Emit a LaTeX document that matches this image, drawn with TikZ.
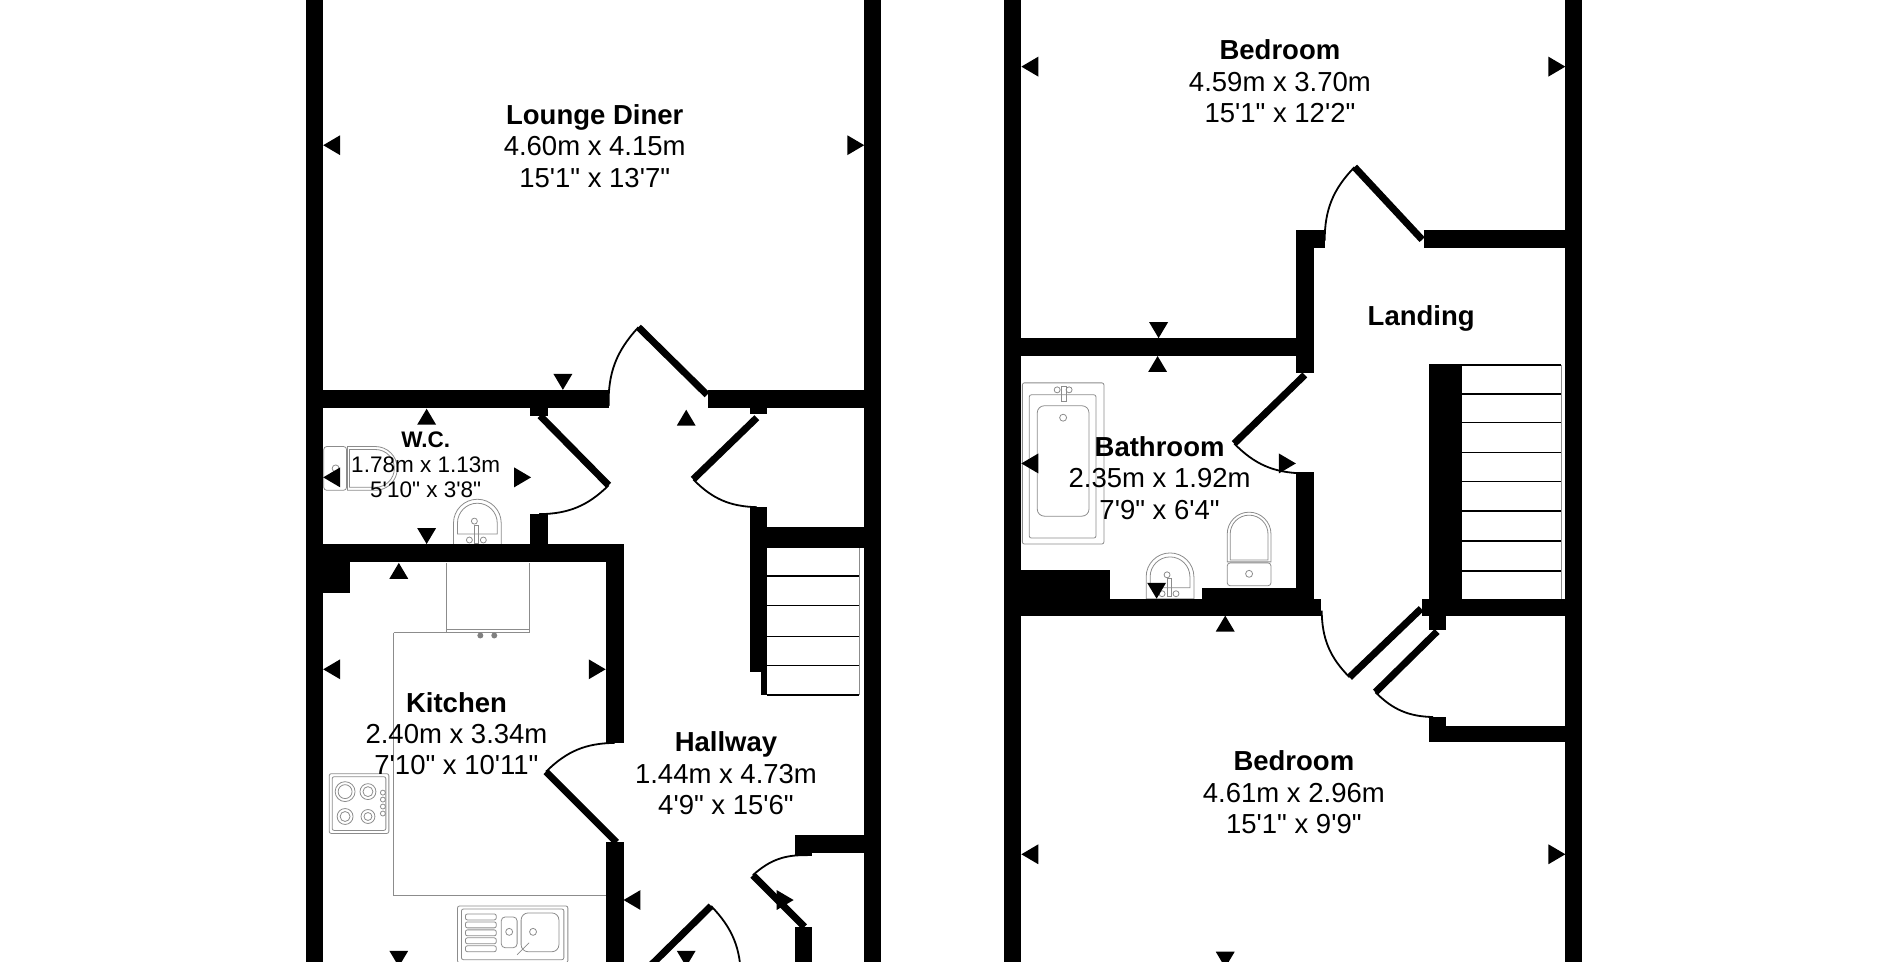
\documentclass[tikz,border=0pt]{standalone}
\usepackage{fontspec}
\usepackage{tikz}
\usetikzlibrary{calc,positioning}
\newfontfamily\planfont{Liberation Sans}
\tikzstyle{wall}=[
  fill=black,
]
\tikzstyle{leaf}=[
  draw=black,
  line width=7pt,
]
\tikzstyle{swing}=[
  draw=black,
  line width=1.8pt,
]
\tikzstyle{tread}=[
  draw=black,
  line width=1.6pt,
]
\tikzstyle{fixture}=[
  draw=black!45,
  line width=.8pt,
]
\tikzstyle{room}=[
  font={\planfont\fontsize{27.5}{30}\selectfont\bfseries},
  inner sep=0pt,
  text height=20pt,
  text depth=0pt,
]
\tikzstyle{dims}=[
  font={\planfont\fontsize{27.5}{30}\selectfont},
  inner sep=0pt,
  text height=20pt,
  text depth=0pt,
]
\tikzstyle{smallroom}=[
  font={\planfont\fontsize{22.5}{25}\selectfont\bfseries},
  inner sep=0pt,
  text height=16.2pt,
  text depth=0pt,
]
\tikzstyle{smalldims}=[
  font={\planfont\fontsize{22.5}{25}\selectfont},
  inner sep=0pt,
  text height=16.2pt,
  text depth=0pt,
]
\tikzset{
  node distance=31.4pt,
  mkup/.pic={\fill (0,0) -- (-9.5,16) -- (9.5,16) -- cycle;},
  mkdown/.pic={\fill (0,0) -- (-9.5,-16) -- (9.5,-16) -- cycle;},
  mkleft/.pic={\fill (0,0) -- (17,-10) -- (17,10) -- cycle;},
  mkright/.pic={\fill (0,0) -- (-17,-10) -- (-17,10) -- cycle;},
  basin/.pic={
    \draw [fixture] (-24,0) -- (-24,-22) arc [start angle=180, end angle=360, radius=24] -- (24,0) -- cycle;
    \draw [fixture] (-20,-11) -- (-20,-22) arc [start angle=180, end angle=360, radius=20] -- (20,-11) -- cycle;
    \draw [fixture] (-3,-24) circle (3);
    \draw [fixture] (-3,-20) rectangle (1,-2);
    \draw [fixture] (-8,-5) circle (3);
    \draw [fixture] (6,-5) circle (3);
  },
  toilet/.pic={
    \draw [fixture] (-22,0) -- (-22,-28) arc [start angle=180, end angle=360, radius=22] -- (22,0) -- cycle;
    \draw [fixture] (-19,-2) -- (-19,-28) arc [start angle=180, end angle=360, radius=19] -- (19,-2) -- cycle;
    \draw [fixture, rounded corners=3pt] (-22,1) rectangle (22,24);
    \draw [fixture] (0,12) circle (3.5);
  },
}
\begin{document}
\begin{tikzpicture}[x=.9945pt,y=-.9945pt]
      \path [use as bounding box, clip] (0,0) rectangle (1900.45,967.3);
      %% ground floor fixtures
      \draw [fixture] (449,566) -- (449,636) (532,566) -- (532,636);
      \draw [fixture] (449,633) -- (532,633);
      \draw [fixture] (396,636) -- (532,636) (396,636) -- (396,900) -- (609,900);
      \fill [black!50] (483,639) circle (3) (497,639) circle (3);
      \draw [fixture, rounded corners=2pt] (331,778) rectangle (391,838);
      \draw [fixture, rounded corners=2pt] (334,781) rectangle (388,835);
      \draw [fixture] (347,796) circle (10) (347,796) circle (7) (370,796) circle (8) (370,796) circle (5);
      \draw [fixture] (347,821) circle (8) (347,821) circle (5) (370,821) circle (7) (370,821) circle (4);
      \draw [fixture] (385,797) circle (2.5) (385,804) circle (2.5) (385,811) circle (2.5) (385,818) circle (2.5);
      \draw [fixture, rounded corners=2pt] (460,911) rectangle (571,968);
      \draw [fixture, rounded corners=2pt] (464,914) rectangle (567,965);
      \draw [fixture, rounded corners=2pt] (468,919) rectangle (499,925);
      \draw [fixture, rounded corners=2pt] (468,927) rectangle (499,933);
      \draw [fixture, rounded corners=2pt] (468,935) rectangle (499,941);
      \draw [fixture, rounded corners=2pt] (468,943) rectangle (499,949);
      \draw [fixture, rounded corners=2pt] (468,951) rectangle (499,957);
      \draw [fixture, rounded corners=4pt] (504,922) rectangle (520,953);
      \draw [fixture] (512,937) circle (3.5);
      \draw [fixture, rounded corners=7pt] (524,918) rectangle (562,957);
      \draw [fixture] (536,937) circle (3.5);
      \draw [fixture] (532,948) -- (520,960);
      \pic [rotate=-90] at (349.5,471) {toilet};
      \pic at (480,548) {basin};
      %% ground floor stairs
      \draw [tread] (771,579) -- (864,579);
      \draw [tread] (771,609) -- (864,609);
      \draw [tread] (771,640) -- (864,640);
      \draw [tread] (771,669) -- (864,669);
      \draw [tread] (771,699) -- (864,699);
      \draw [fixture] (864,551) -- (864,699);
      %% ground floor walls
      \fill [wall] (308,0) rectangle (325,970);
      \fill [wall] (869,0) rectangle (886,970);
      \fill [wall] (308,392) rectangle (612,410);
      \fill [wall] (712,392) rectangle (886,410);
      \fill [wall] (533,410) rectangle (551,418);
      \fill [wall] (754,410) rectangle (771,416);
      \fill [wall] (533,517) rectangle (551,565);
      \fill [wall] (308,547) rectangle (627,565);
      \fill [wall] (325,565) rectangle (352,596);
      \fill [wall] (609,547) rectangle (627,747);
      \fill [wall] (609,847) rectangle (627,970);
      \fill [wall] (754,510) rectangle (771,676);
      \fill [wall] (765,676) rectangle (771,699);
      \fill [wall] (754,530) rectangle (886,551);
      \fill [wall] (799,840) rectangle (886,858);
      \fill [wall] (799,858) rectangle (816,861);
      \fill [wall] (799,932) rectangle (816,970);
      %% ground floor doors
      \draw [leaf] (711,397) -- (642,329);
      \draw [swing] (642,329) to [bend right=22] (612,408);
      \draw [leaf] (543,418) -- (612,488);
      \draw [swing] (612,488) to [bend left=22] (542,517);
      \draw [leaf] (761,420) -- (697,482);
      \draw [swing] (697,482) to [bend right=22] (761,510);
      \draw [leaf] (620,847) -- (549,776);
      \draw [swing] (549,776) to [bend left=22] (618,747);
      \draw [leaf] (809,932) -- (757,880);
      \draw [swing] (757,880) to [bend left=22] (812,860);
      \draw [leaf] (715,911) -- (650,975);
      \draw [swing] (715,911) to [bend left=22] (745,985);
      %% first floor fixtures
      \draw [fixture, rounded corners=2pt] (1028,385) rectangle (1110,547);
      \draw [fixture, rounded corners=2pt] (1035,397) rectangle (1102,541);
      \draw [fixture, rounded corners=7pt] (1043,408) rectangle (1095,519);
      \draw [fixture] (1069,420) circle (3.5);
      \draw [fixture] (1063,392) circle (3) (1075,392) circle (3);
      \draw [fixture] (1067,389) rectangle (1072,404);
      \pic at (1176.5,602) {basin};
      \pic at (1256,565) {toilet};
      %% first floor stairs
      \draw [tread] (1470,367) -- (1570,367);
      \draw [tread] (1470,396) -- (1570,396);
      \draw [tread] (1470,425) -- (1570,425);
      \draw [tread] (1470,455) -- (1570,455);
      \draw [tread] (1470,484) -- (1570,484);
      \draw [tread] (1470,514) -- (1570,514);
      \draw [tread] (1470,544) -- (1570,544);
      \draw [tread] (1470,574) -- (1570,574);
      \draw [fixture] (1570,367) -- (1570,603);
      %% first floor walls
      \fill [wall] (1010,0) rectangle (1027,970);
      \fill [wall] (1574,0) rectangle (1591,970);
      \fill [wall] (1010,340) rectangle (1321,358);
      \fill [wall] (1303,231) rectangle (1321,375);
      \fill [wall] (1303,231) rectangle (1332,249);
      \fill [wall] (1432,231) rectangle (1591,249);
      \fill [wall] (1303,475) rectangle (1321,619);
      \fill [wall] (1010,602) rectangle (1328,619);
      \fill [wall] (1027,573) rectangle (1116,602);
      \fill [wall] (1209,591) rectangle (1303,602);
      \fill [wall] (1437,366) rectangle (1470,602);
      \fill [wall] (1430,602) rectangle (1591,619);
      \fill [wall] (1437,619) rectangle (1454,633);
      \fill [wall] (1437,721) rectangle (1454,731);
      \fill [wall] (1437,730) rectangle (1591,746);
      %% first floor doors
      \draw [leaf] (1430,241) -- (1362,168);
      \draw [swing] (1362,168) to [bend right=22] (1332,242);
      \draw [leaf] (1312,377) -- (1241,446);
      \draw [swing] (1241,446) to [bend right=22] (1310,476);
      \draw [leaf] (1429,612) -- (1357,681);
      \draw [swing] (1357,681) to [bend left=22] (1329,614);
      \draw [leaf] (1445,635) -- (1383,696);
      \draw [swing] (1383,696) to [bend right=22] (1441,721);
      %% dimension marks
      \pic at (325,146) {mkleft};
      \pic at (869,146) {mkright};
      \pic at (566,392) {mkdown};
      \pic at (429,411) {mkup};
      \pic at (325,480) {mkleft};
      \pic at (534,480) {mkright};
      \pic at (429,547) {mkdown};
      \pic at (690,412) {mkup};
      \pic at (401,566) {mkup};
      \pic at (325,673) {mkleft};
      \pic at (609,673) {mkright};
      \pic at (401,972) {mkdown};
      \pic at (627,905) {mkleft};
      \pic at (690,972) {mkdown};
      \pic at (798,905) {mkright};
      \pic at (1027,67) {mkleft};
      \pic at (1574,67) {mkright};
      \pic at (1165,340) {mkdown};
      \pic at (1164,358) {mkup};
      \pic at (1027,466) {mkleft};
      \pic at (1303,466) {mkright};
      \pic at (1163,602) {mkdown};
      \pic at (1232,619) {mkup};
      \pic at (1027,859) {mkleft};
      \pic at (1574,859) {mkright};
      \pic at (1232,973) {mkdown};
      %% labels
      \node (lounge) [room] at (598,115) {Lounge Diner};
      \node (loungem) [dims, below of=lounge] {4.60m x 4.15m};
      \node (loungeft) [dims, below of=loungem] {15'1" x 13'7"};
      \node (wc) [smallroom] at (428,442) {W.C.};
      \node (wcm) [smalldims, below of=wc, node distance=25pt] {1.78m x 1.13m};
      \node (wcft) [smalldims, below of=wcm, node distance=25pt] {5'10" x 3'8"};
      \node (kitchen) [room] at (459,706) {Kitchen};
      \node (kitchenm) [dims, below of=kitchen] {2.40m x 3.34m};
      \node (kitchenft) [dims, below of=kitchenm] {7'10" x 10'11"};
      \node (hallway) [room] at (730,746) {Hallway};
      \node (hallwaym) [dims, below of=hallway] {1.44m x 4.73m};
      \node (hallwayft) [dims, below of=hallwaym] {4'9" x 15'6"};
      \node (bedtop) [room] at (1287,50) {Bedroom};
      \node (bedtopm) [dims, below of=bedtop] {4.59m x 3.70m};
      \node (bedtopft) [dims, below of=bedtopm] {15'1" x 12'2"};
      \node (landing) [room] at (1429,317) {Landing};
      \node (bathroom) [room] at (1166,449) {Bathroom};
      \node (bathroomm) [dims, below of=bathroom] {2.35m x 1.92m};
      \node (bathroomft) [dims, below of=bathroomm] {7'9" x 6'4"};
      \node (bedlow) [room] at (1301,765) {Bedroom};
      \node (bedlowm) [dims, below of=bedlow] {4.61m x 2.96m};
      \node (bedlowft) [dims, below of=bedlowm] {15'1" x 9'9"};
    \end{tikzpicture}
\end{document}
